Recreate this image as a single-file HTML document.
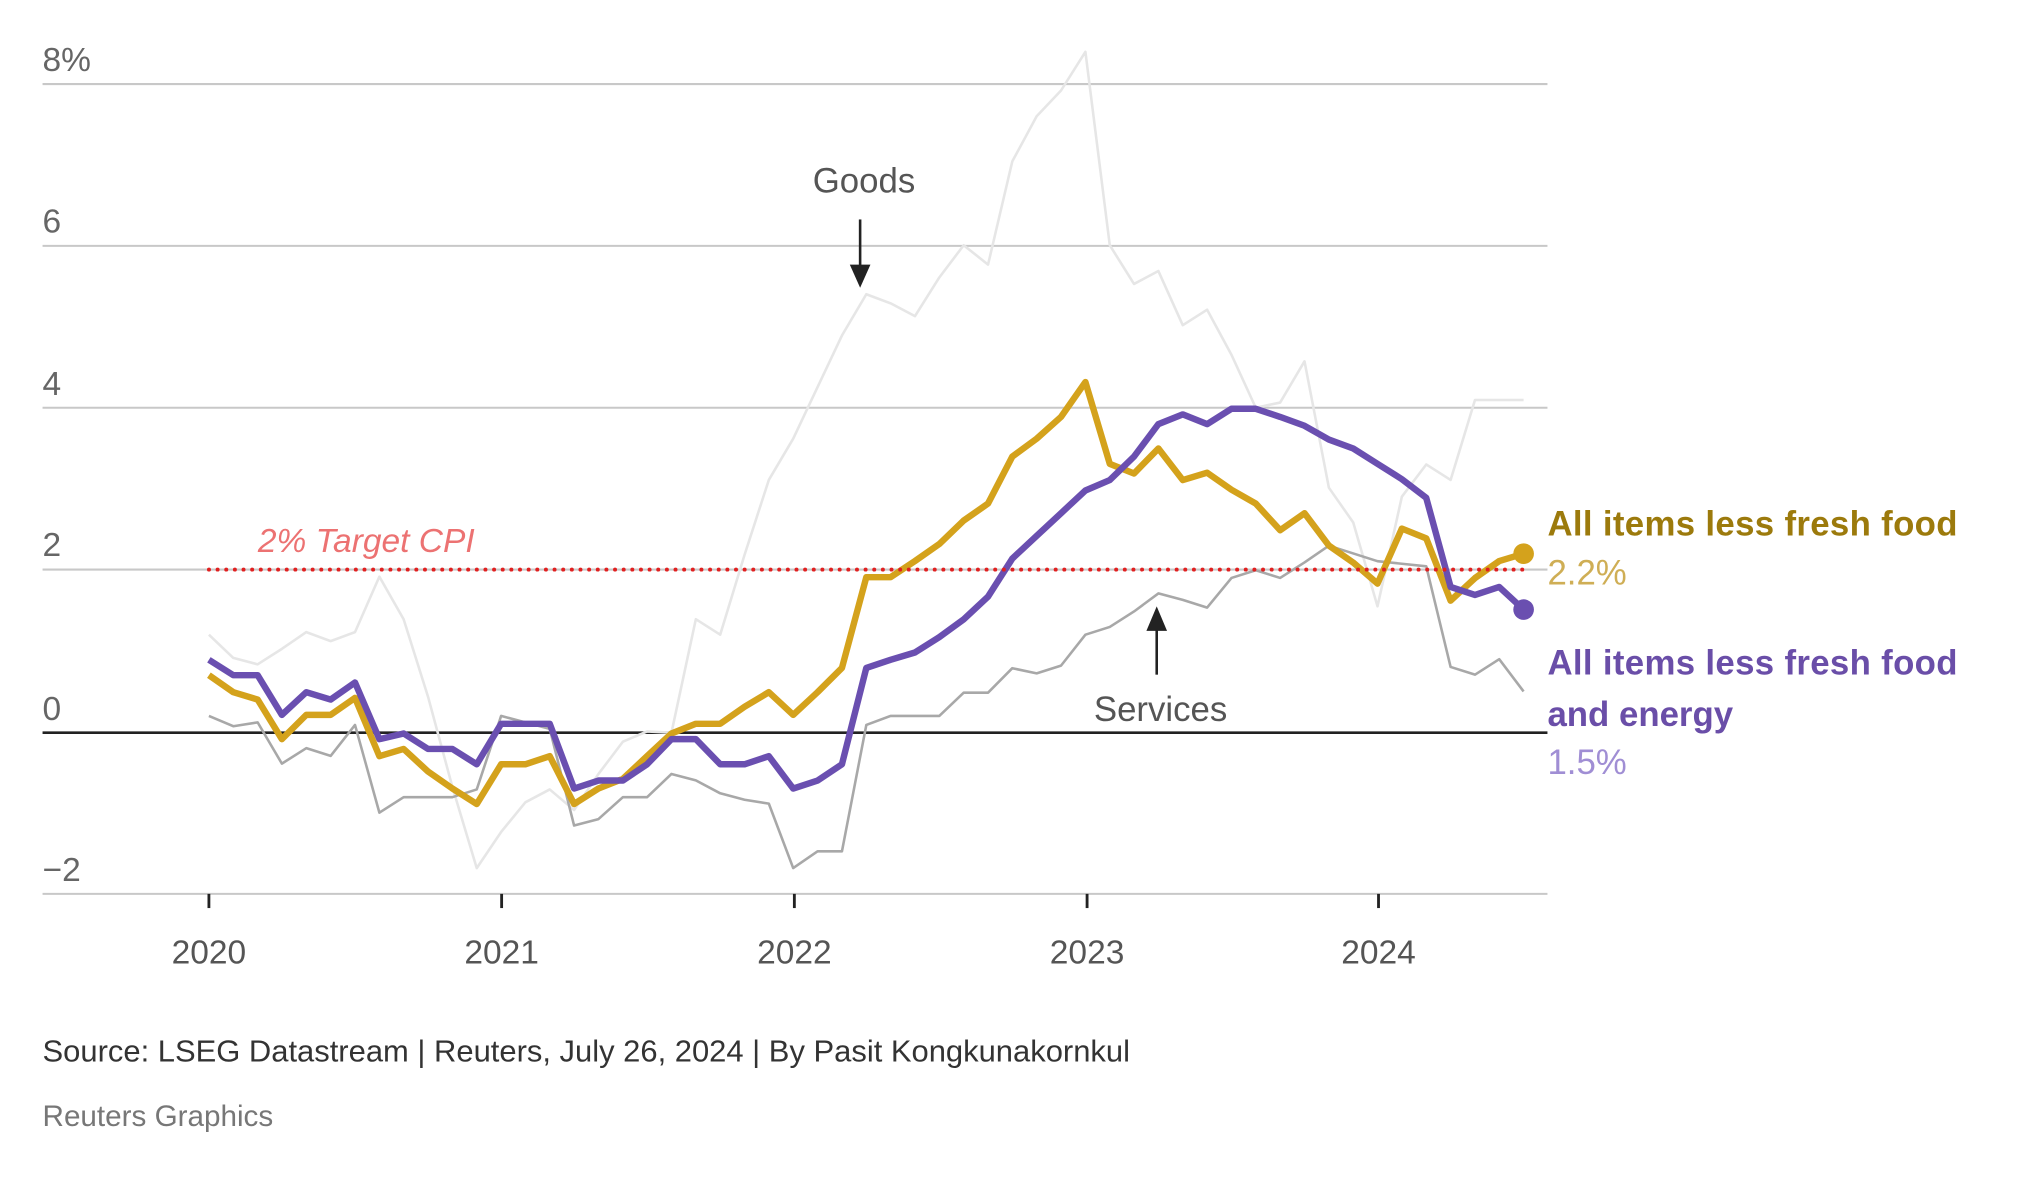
<!DOCTYPE html>
<html><head><meta charset="utf-8"><style>
html,body{margin:0;padding:0;background:#fff;}
svg{display:block;font-family:"Liberation Sans",sans-serif;}
</style></head><body>
<svg id="c" width="2022" height="1192" viewBox="0 0 1568 924" xmlns="http://www.w3.org/2000/svg">
<rect width="1568" height="924" fill="#fff"/>
<g stroke="#c8c8c8" stroke-width="1.6">
<line x1="33" y1="65" x2="1200" y2="65"/>
<line x1="33" y1="190.5" x2="1200" y2="190.5"/>
<line x1="33" y1="316" x2="1200" y2="316"/>
<line x1="33" y1="441.5" x2="1200" y2="441.5"/>
<line x1="33" y1="693" x2="1200" y2="693"/>
</g>
<line x1="33" y1="568" x2="1200" y2="568" stroke="#222" stroke-width="2"/>
<g stroke="#222" stroke-width="2.2">
<line x1="162" y1="693" x2="162" y2="704"/><line x1="389" y1="693" x2="389" y2="704"/>
<line x1="616" y1="693" x2="616" y2="704"/><line x1="843" y1="693" x2="843" y2="704"/>
<line x1="1069" y1="693" x2="1069" y2="704"/>
</g>
<g fill="#666" font-size="26">
<text x="33" y="55">8%</text><text x="33" y="180">6</text><text x="33" y="306">4</text>
<text x="33" y="431">2</text><text x="33" y="558">0</text><text x="33" y="683">−2</text>
</g>
<g fill="#555" font-size="26" text-anchor="middle">
<text x="162" y="747">2020</text><text x="389" y="747">2021</text><text x="616" y="747">2022</text>
<text x="843" y="747">2023</text><text x="1069" y="747">2024</text>
</g>
<g id="lines"></g>
<line x1="162" y1="441.5" x2="1182" y2="441.5" stroke="#e02020" stroke-width="3" stroke-dasharray="0.1 6.6" stroke-linecap="round"/>
<text x="200" y="428" fill="#ec7272" font-size="26" font-style="italic">2% Target CPI</text>
<text x="670" y="149" fill="#555" font-size="27" text-anchor="middle">Goods</text>
<line x1="667" y1="170" x2="667" y2="208" stroke="#222" stroke-width="2"/>
<polygon points="659,205 675,205 667,223" fill="#222"/>
<text x="900" y="559" fill="#555" font-size="27" text-anchor="middle">Services</text>
<line x1="897" y1="523" x2="897" y2="486" stroke="#222" stroke-width="2"/>
<polygon points="889,489 905,489 897,470" fill="#222"/>
<text x="1200" y="415" fill="#9c7a0c" font-size="27" font-weight="bold" textLength="318">All items less fresh food</text>
<text x="1200" y="453" fill="#cfae55" font-size="27">2.2%</text>
<text x="1200" y="523" fill="#6a4ea8" font-size="27" font-weight="bold" textLength="318">All items less fresh food</text>
<text x="1200" y="563" fill="#6a4ea8" font-size="27" font-weight="bold">and energy</text>
<text x="1200" y="600" fill="#a08ed4" font-size="27">1.5%</text>
<text x="33" y="823" fill="#333" font-size="24">Source: LSEG Datastream | Reuters, July 26, 2024 | By Pasit Kongkunakornkul</text>
<text x="33" y="873" fill="#777" font-size="23">Reuters Graphics</text>
</svg>
<script>
var Y=[0.71,0.5,0.41,-0.08,0.22,0.22,0.43,-0.29,-0.2,-0.48,-0.69,-0.88,-0.39,-0.39,-0.29,-0.88,-0.69,-0.57,-0.29,-0.01,0.11,0.11,0.32,0.5,0.22,0.5,0.8,1.92,1.92,2.12,2.33,2.62,2.83,3.41,3.63,3.9,4.33,3.32,3.2,3.51,3.12,3.21,3.0,2.83,2.5,2.71,2.31,2.1,1.84,2.52,2.4,1.63,1.91,2.12,2.21];
var P=[0.9,0.71,0.71,0.22,0.5,0.41,0.62,-0.08,-0.01,-0.2,-0.2,-0.39,0.11,0.11,0.11,-0.69,-0.59,-0.59,-0.39,-0.08,-0.08,-0.39,-0.39,-0.29,-0.69,-0.59,-0.39,0.8,0.9,0.99,1.18,1.4,1.68,2.15,2.43,2.71,2.99,3.12,3.41,3.81,3.93,3.81,4.0,4.0,3.9,3.79,3.62,3.51,3.32,3.13,2.9,1.8,1.7,1.8,1.52];
var S=[555,563,560,592,580,586,562,630,618,618,618,612,555,560,565,640,635,618,618,600,605,615,620,623,673,660,660,562,555,555,555,537,537,518,522,516,492,486,474,460,465,471,448,442,448,436,423,429,435,437,439,517,523,511,536];
var G=[492,510,515,503,490,497,490,447,480,540,610,673,645,622,612,628,600,575,567,568,480,492,430,372,340,300,260,228,235,245,215,190,205,125,90,70,40,190,220,210,252,240,275,316,312,280,378,405,470,385,360,372,310,310,310];
function X(i){return 162+i*18.88;}
function pts(a,isv){return a.map(function(v,i){return X(i).toFixed(1)+","+(isv?(568-62.8*v):v).toFixed(1);}).join(" ");}
var g=document.getElementById("lines"),ns="http://www.w3.org/2000/svg";
function pl(p,c,w){var e=document.createElementNS(ns,"polyline");e.setAttribute("points",p);e.setAttribute("fill","none");e.setAttribute("stroke",c);e.setAttribute("stroke-width",w);e.setAttribute("stroke-linejoin","round");g.appendChild(e);}
pl(pts(G,false),"#e6e6e6",2);
pl(pts(S,false),"#a8a8a8",2);
pl(pts(Y,true),"#d4a21c",5);
pl(pts(P,true),"#6a4fb0",5);
function dot(v,c){var e=document.createElementNS(ns,"circle");e.setAttribute("cx",X(54));e.setAttribute("cy",568-62.8*v);e.setAttribute("r",8);e.setAttribute("fill",c);g.appendChild(e);}
dot(2.21,"#d4a21c");dot(1.52,"#6a4fb0");
</script>
</body></html>
